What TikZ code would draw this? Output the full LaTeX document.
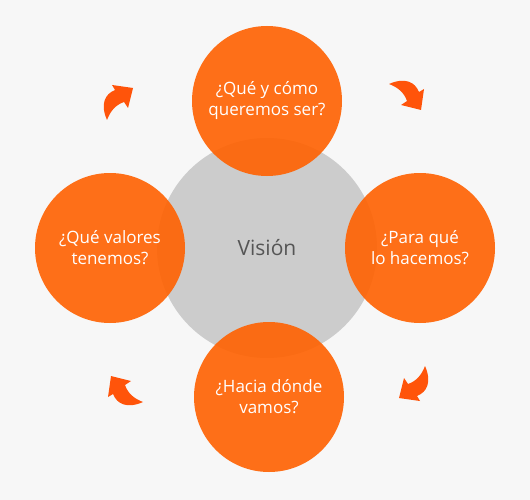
\documentclass[tikz,border=0pt]{standalone}
\usepackage{fontspec}
\setmainfont{Open Sans}
\definecolor{bgC}{HTML}{F7F7F7}
\definecolor{grayC}{HTML}{CCCCCC}
\definecolor{orangeC}{HTML}{FF6100}
\definecolor{arrowC}{HTML}{FF540A}
\definecolor{textC}{HTML}{555555}
\newcommand\myturnpath{(107,120) .. controls (100,104) and (105,94) .. (115,90) -- (112,85) -- (133,88) -- (128,108) -- (124,102) .. controls (115,105) and (110,112) .. (107,120) -- cycle}
\begin{document}
\begin{tikzpicture}[x=1pt,y=-1pt,
  bubble/.style={circle,minimum size=150pt,inner sep=0pt,fill=orangeC,fill opacity=0.9,text opacity=1,text=white,align=center,font=\fontsize{17}{21}\selectfont},
  core/.style={circle,minimum size=220pt,inner sep=0pt,fill=grayC,text=textC,font=\fontsize{21}{25}\selectfont},
  turn/.style={fill=arrowC}]
\fill[bgC] (0,0) rectangle (530,500);
\useasboundingbox (0,0) rectangle (530,500);
\node[core] (vision) at (267,248) {Visión};
\node[bubble] (q1) at (267,101) {¿Qué y cómo\\queremos ser?};
\node[bubble] (q2) at (420,248) {¿Para qué\\lo hacemos?};
\node[bubble] (q3) at (269,397) {¿Hacia dónde\\vamos?};
\node[bubble] (q4) at (110,248) {¿Qué valores\\tenemos?};
\fill[turn] \myturnpath;
\begin{scope}[rotate around={-90:(266,243)}]
\fill[turn] \myturnpath;
\end{scope}
\begin{scope}[rotate around={180:(266,243)}]
\fill[turn] \myturnpath;
\end{scope}
\begin{scope}[rotate around={90:(266,243)}]
\fill[turn] \myturnpath;
\end{scope}
\end{tikzpicture}
\end{document}
